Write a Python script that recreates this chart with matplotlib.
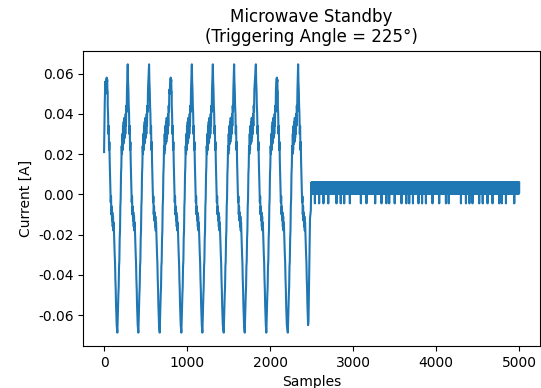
import numpy as np
import matplotlib
matplotlib.use("Agg")
import matplotlib.pyplot as plt

# ---- data ----
# start of the record (partial first cycle)
start_samples = [0, 8, 14, 20]
start_values = [0.021, 0.045, 0.056, 0.050]

# per-cycle extremes
trough_samples = [160, 413, 670, 931, 1184, 1441, 1694, 1954, 2213, 2462]
trough_values = [-0.0687, -0.0687, -0.0687, -0.0687, -0.0687, -0.0687, -0.0687, -0.0687, -0.0687, -0.063]
peak_samples = [32, 285, 542, 803, 1057, 1310, 1566, 1828, 2081, 2337]
peak_values = [0.058, 0.0646, 0.0646, 0.058, 0.0646, 0.0646, 0.0646, 0.0646, 0.058, 0.0646]

# shape of the rising edge (offset from trough) and falling edge (offset from peak)
rise_offsets = [4, 8, 12, 16, 20, 24, 28, 32, 36, 40, 44, 48, 52, 56, 60, 64, 68, 72, 76,
                80, 84, 88, 92, 96, 100, 104, 108, 112, 116]
rise_values = [-0.062, -0.057, -0.050, -0.046, -0.036, -0.033, -0.022, -0.018, -0.006,
               -0.002, 0.010, 0.014, 0.024, 0.020, 0.030, 0.022, 0.034, 0.025, 0.036,
               0.026, 0.038, 0.028, 0.037, 0.030, 0.040, 0.034, 0.044, 0.041, 0.052]
fall_offsets = [4, 8, 12, 16, 20, 24, 28, 32, 36, 40, 44, 48, 52, 56, 60, 64, 68, 72, 76,
                80, 84, 88, 92, 96, 100, 104, 108, 112, 116, 120]
fall_values = [0.056, 0.052, 0.044, 0.040, 0.030, 0.034, 0.022, 0.026, 0.016, 0.010,
               0.004, -0.004, -0.001, -0.010, -0.006, -0.013, -0.009, -0.016, -0.011,
               -0.018, -0.014, -0.020, -0.024, -0.030, -0.034, -0.042, -0.047, -0.055,
               -0.060, -0.065]
# flat-topped (lower) peaks: extra wiggle around the peak
plateau_offsets = [-12, -6, 6, 12]
plateau_values = [0.050, 0.057, 0.057, 0.051]

# after the last trough, before standby
tail_samples = [2470, 2480, 2490]
tail_values = [-0.040, -0.012, -0.008]

# standby: quantised noise levels and positions of the downward spikes
standby_start = 2495
standby_end = 4999
standby_high = 0.0058
standby_mid = 0.0005
standby_low = -0.0045
spike_samples = [2539, 2590, 2642, 2700, 2799, 2850, 2892, 2960, 3093, 3160, 3265, 3341,
                 3400, 3434, 3500, 3582, 3640, 3675, 3720, 3787, 3830, 3876, 3955, 4036,
                 4117, 4150, 4298, 4358, 4400, 4437, 4518, 4560, 4618, 4678, 4759, 4790,
                 4840, 4940]

# ---- assemble the series ----
pts = list(zip(start_samples, start_values))
for i in range(len(peak_samples)):
    p, pv = peak_samples[i], peak_values[i]
    pts.append((p, pv))
    if pv < 0.06:
        pts += [(p + o, v) for o, v in zip(plateau_offsets, plateau_values)]
    pts += [(p + o, v) for o, v in zip(fall_offsets, fall_values)
            if p + o < trough_samples[i]]
    pts.append((trough_samples[i], trough_values[i]))
    if i + 1 < len(peak_samples):
        pts += [(trough_samples[i] + o, v) for o, v in zip(rise_offsets, rise_values)
                if trough_samples[i] + o < peak_samples[i + 1]]
pts += list(zip(tail_samples, tail_values))
spikes = set(spike_samples)
for n in range(standby_start, standby_end + 1):
    if n in spikes:
        v = standby_low
    elif (n - standby_start) % 2 == 0:
        v = standby_high
    else:
        v = standby_mid
    pts.append((n, v))
pts.sort(key=lambda t: t[0])
xs = [t[0] for t in pts]
ys = [t[1] for t in pts]

fig = plt.figure(figsize=(5.41, 3.88), dpi=100)
ax = fig.add_axes([0.154, 0.108, 0.844, 0.761])
ax.plot(xs, ys, color="#1f77b4", linewidth=1.5)
ax.set_title("Microwave Standby\n(Triggering Angle = 225°)", fontsize=12)
ax.set_xlabel("Samples")
ax.set_ylabel("Current [A]")
ax.set_xticks([0, 1000, 2000, 3000, 4000, 5000])
ax.set_yticks([-0.06, -0.04, -0.02, 0.0, 0.02, 0.04, 0.06])
ax.yaxis.set_major_formatter(matplotlib.ticker.FormatStrFormatter("%.2f"))
ax.set_ylim(-0.0754, 0.0713)
ax.set_xlim(-250, 5249)
fig.savefig("out.png", dpi=100)
